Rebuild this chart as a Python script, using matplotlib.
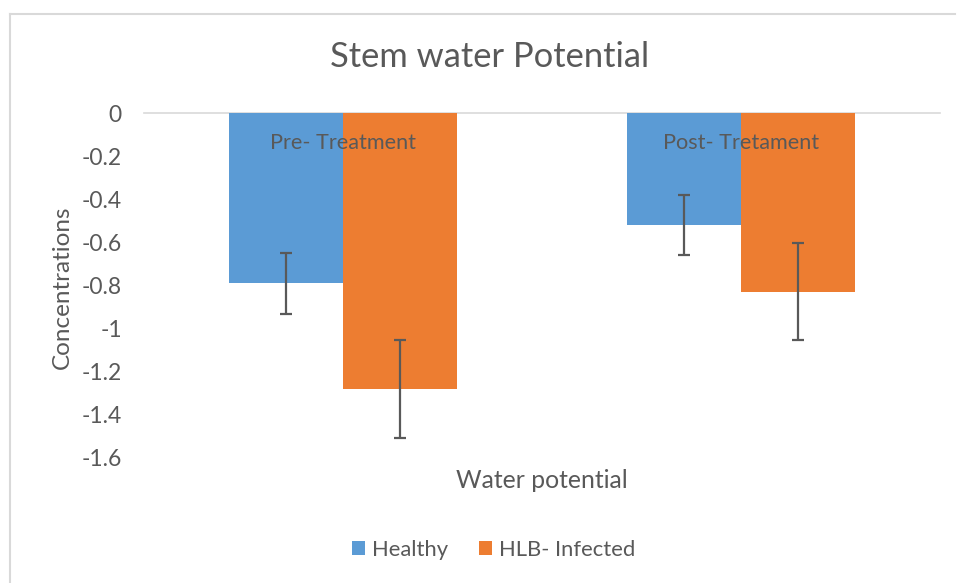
import matplotlib
matplotlib.use("Agg")
import matplotlib.pyplot as plt
from matplotlib.lines import Line2D
from matplotlib.patches import Patch
import numpy as np

categories = ["Pre- Treatment", "Post- Tretament"]
series_names = ["Healthy", "HLB- Infected"]
healthy = [-0.79, -0.52]
healthy_err = [0.14, 0.14]
hlb = [-1.28, -0.83]
hlb_err = [0.225, 0.225]
yticks = [0, -0.2, -0.4, -0.6, -0.8, -1, -1.2, -1.4, -1.6]
ytick_labels = ["0", "-0.2", "-0.4", "-0.6", "-0.8", "-1", "-1.2", "-1.4", "-1.6"]

colors = ["#5B9BD5", "#ED7D31"]
text_color = "#595959"
plt.rcParams['font.family'] = ['Lato', 'DejaVu Sans']

W, H = 957, 583
fig = plt.figure(figsize=(W / 100, H / 100), dpi=100)
ax = fig.add_axes([144 / W, 1 - 458 / H, (940 - 144) / W, (458 - 113) / H])

x = np.arange(len(categories))
bw = 0.2864
err_kw = dict(ecolor="#595959", elinewidth=1.6, capsize=4.3, capthick=1.6)
ax.bar(x - bw / 2, healthy, bw, color=colors[0], yerr=healthy_err, error_kw=err_kw, zorder=2)
ax.bar(x + bw / 2, hlb, bw, color=colors[1], yerr=hlb_err, error_kw=err_kw, zorder=2)

ax.set_xlim(-0.5, 1.5)
ax.set_ylim(-1.6, 0)
ax.set_yticks(yticks)
ax.set_yticklabels(ytick_labels, fontsize=16.5, color=text_color)
ax.tick_params(axis="y", length=0, pad=16)
ax.set_xticks([])
for s in ["left", "right", "bottom"]:
    ax.spines[s].set_visible(False)
ax.spines["top"].set_color("#D9D9D9")
ax.spines["top"].set_linewidth(1.2)
ax.spines["top"].set_zorder(1)

for xi, cat in zip(x, categories):
    ax.text(xi, -0.14, cat, ha="center", va="center", fontsize=15.6, color=text_color, zorder=3)

fig.text(490 / W, 1 - 57 / H, "Stem water Potential", ha="center", va="center",
         fontsize=24.8, color=text_color)
fig.text(542 / W, 1 - 480 / H, "Water potential", ha="center", va="center",
         fontsize=17.8, color=text_color)
fig.text(62 / W, 1 - 287 / H, "Concentrations", ha="center", va="center",
         rotation=90, fontsize=17.5, color=text_color)

handles = [Patch(facecolor=c, edgecolor="none") for c in colors]
fig.legend(handles, series_names, loc="center", bbox_to_anchor=(494 / W, 1 - 550 / H),
           ncol=2, frameon=False, fontsize=15.8, labelcolor=text_color,
           handlelength=0.6, handleheight=0.6, handletextpad=0.32, columnspacing=1.4)

# chart area border (left and top visible)
fig.add_artist(Line2D([10 / W, 10 / W], [0, 1 - 14 / H], transform=fig.transFigure,
                      color="#D9D9D9", linewidth=1.5))
fig.add_artist(Line2D([10 / W, 955 / W], [1 - 14 / H, 1 - 14 / H], transform=fig.transFigure,
                      color="#D9D9D9", linewidth=1.5))

fig.savefig("out.png", dpi=100)
